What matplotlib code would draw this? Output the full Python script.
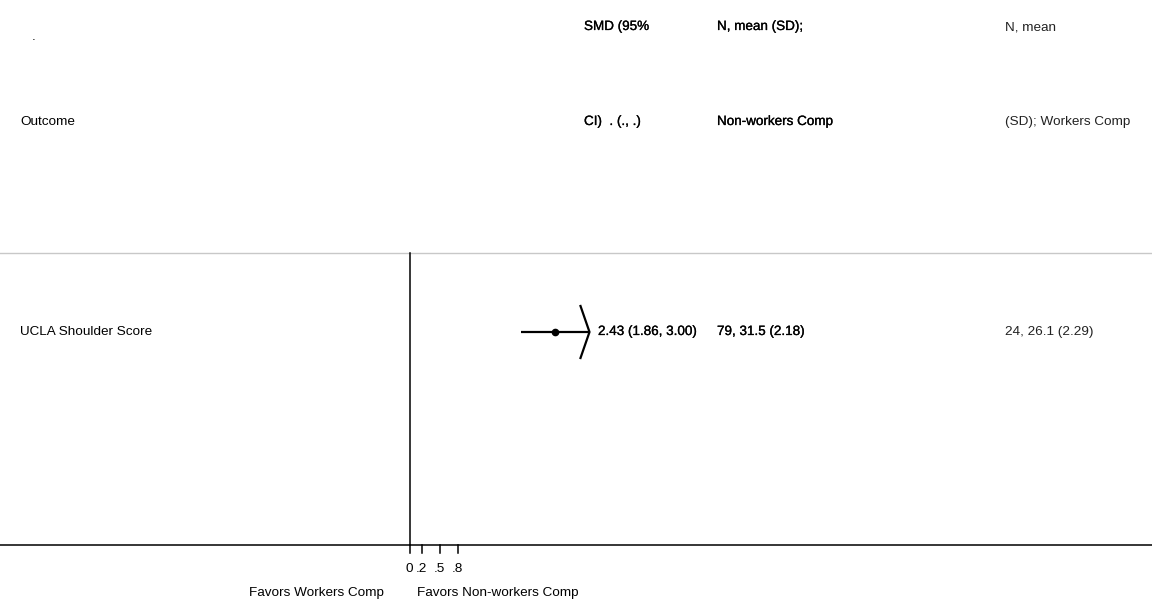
import matplotlib
matplotlib.use("Agg")
import matplotlib.pyplot as plt
import matplotlib.patheffects as pe

plt.rcParams['font.family'] = ['Liberation Sans', 'DejaVu Sans']

# data
outcomes = ['UCLA Shoulder Score']
smd = [2.43]
ci_lo = [1.86]
ci_hi = [3.00]
smd_text = ['2.43 (1.86, 3.00)']
nonworkers = ['79, 31.5 (2.18)']
workers = ['24, 26.1 (2.29)']
xticks = [0, 0.2, 0.5, 0.8]
xticklabels = ['0', '.2', '.5', '.8']

fig = plt.figure(figsize=(11.52, 6.02), dpi=100)
ax = fig.add_axes([0, 0, 1, 1])
ax.set_xlim(-6.825, 12.375)
ax.set_ylim(602, 0)  # y in pixel rows from the top
ax.axis('off')

fs = 9.7
tr = ax.get_yaxis_transform()  # x in axes fraction, y in data
heavy = [pe.withStroke(linewidth=0.2, foreground='black')]

# headers
ax.text(32 / 1152, 40.5, '.', fontsize=fs, ha='left', va='baseline', transform=tr)
ax.text(20 / 1152, 122, 'Outcome', fontsize=fs, va='center', transform=tr)
ax.text(584 / 1152, 27, 'SMD (95%', fontsize=fs, va='center', transform=tr, path_effects=heavy)
ax.text(584 / 1152, 122, 'CI)  . (., .)', fontsize=fs, va='center', transform=tr, path_effects=heavy)
ax.text(717 / 1152, 27, 'N, mean (SD);', fontsize=fs, va='center', transform=tr, path_effects=heavy)
ax.text(717 / 1152, 122, 'Non-workers Comp', fontsize=fs, va='center', transform=tr, path_effects=heavy)
ax.text(1005 / 1152, 27, 'N, mean', fontsize=fs, va='center', color='#222222', transform=tr)
ax.text(1005 / 1152, 122, '(SD); Workers Comp', fontsize=fs, va='center', color='#222222', transform=tr)

# separator and axis lines
ax.axhline(253, color='#c8c8c8', lw=1)
ax.axhline(545, color='black', lw=1.1)
ax.plot([0, 0], [253, 545], color='black', lw=1.1)

# rows
row_y = [332]
for i, name in enumerate(outcomes):
    y = row_y[i]
    ax.text(20 / 1152, y, name, fontsize=fs, va='center', transform=tr)
    ax.plot([ci_lo[i], ci_hi[i]], [y, y], color='black', lw=1.6, solid_capstyle='butt')
    # arrow at the clipped upper limit
    ax.plot([ci_hi[i] - 0.15, ci_hi[i], ci_hi[i] - 0.15], [y - 26, y, y + 26],
            color='black', lw=1.6)
    ax.plot(smd[i], y, marker='o', color='black', markersize=4.5)
    ax.text(598 / 1152, y, smd_text[i], fontsize=fs, va='center', transform=tr, path_effects=heavy)
    ax.text(717 / 1152, y, nonworkers[i], fontsize=fs, va='center', transform=tr, path_effects=heavy)
    ax.text(1005 / 1152, y, workers[i], fontsize=fs, va='center', color='#222222', transform=tr)

# ticks
for t, lab in zip(xticks, xticklabels):
    ax.plot([t, t], [545, 553], color='black', lw=1.1)
    ax.text(t, 569, lab, fontsize=fs, ha='center', va='center')

ax.text(-0.42, 593, 'Favors Workers Comp', fontsize=fs, ha='right', va='center')
ax.text(0.125, 593, 'Favors Non-workers Comp', fontsize=fs, ha='left', va='center')

fig.savefig('out.png', dpi=100)
